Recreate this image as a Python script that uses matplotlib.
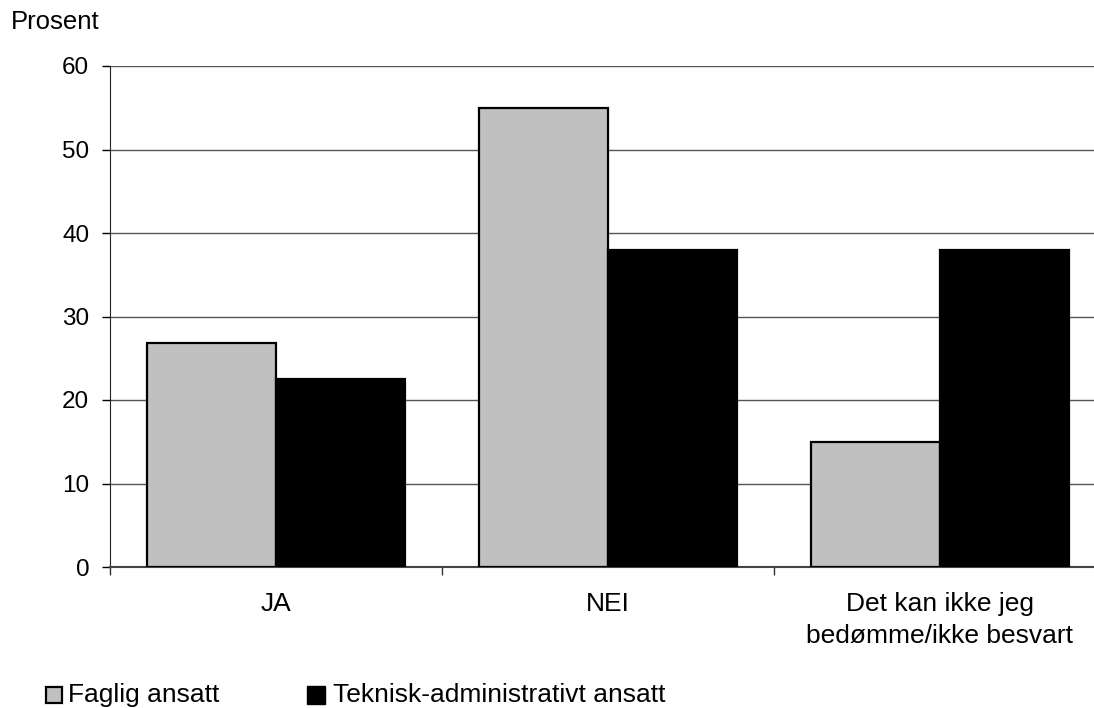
import matplotlib.pyplot as plt
from matplotlib.ticker import FixedLocator
import numpy as np

plt.rcParams['font.family'] = ['Liberation Sans', 'DejaVu Sans']

categories = ['JA', 'NEI', 'Det kan ikke jeg\nbedømme/ikke besvart']
faglig = [26.8, 55.0, 15.0]
teknisk = [22.5, 38.0, 38.0]
series_names = ['Faglig ansatt', 'Teknisk-administrativt ansatt']

W, H = 1094, 708
fig = plt.figure(figsize=(W / 100, H / 100), dpi=100)
ax = fig.add_axes([110 / W, (H - 567) / H, 996 / W, 501 / H])

x = np.arange(len(categories))
bw = 0.39
ax.bar(x - bw / 2, faglig, bw, color='#c0c0c0', edgecolor='black', linewidth=1.6, zorder=3)
ax.bar(x + bw / 2, teknisk, bw, color='black', edgecolor='black', linewidth=1.6, zorder=3)

ax.set_xlim(-0.5, 2.5)
ax.set_ylim(0, 60)
ax.set_yticks(range(0, 61, 10))
ax.yaxis.grid(True, color='#555555', linewidth=1.0, zorder=0)
ax.set_axisbelow(True)

ax.set_xticks(x)
ax.set_xticklabels(categories, fontsize=19, linespacing=1.43)
ax.tick_params(axis='x', which='major', length=0, pad=18)
ax.xaxis.set_minor_locator(FixedLocator([-0.5, 0.5, 1.5]))
ax.tick_params(axis='x', which='minor', length=6, width=1, color='#333333')
ax.tick_params(axis='y', length=6, width=1, pad=9, labelsize=17.5)

for s in ['top', 'right']:
    ax.spines[s].set_visible(False)
ax.spines['left'].set_color('#222222')
ax.spines['bottom'].set_color('#444444')
ax.spines['bottom'].set_linewidth(1.5)

fig.text(11 / W, 1 - 22 / H, 'Prosent', fontsize=18.5, va='center', ha='left')

# legend along the bottom
ly = 1 - 695 / H
fig.patches.append(plt.Rectangle((46 / W, ly - 8 / H), 16 / W, 16 / H, transform=fig.transFigure,
                                 facecolor='#c0c0c0', edgecolor='black', linewidth=1.6))
fig.text(68 / W, ly, series_names[0], fontsize=19, va='center', ha='left')
fig.patches.append(plt.Rectangle((307 / W, ly - 9 / H), 18 / W, 18 / H, transform=fig.transFigure,
                                 facecolor='black', edgecolor='black', linewidth=1.0))
fig.text(333 / W, ly, series_names[1], fontsize=19, va='center', ha='left')

fig.savefig('out.png', dpi=100)
